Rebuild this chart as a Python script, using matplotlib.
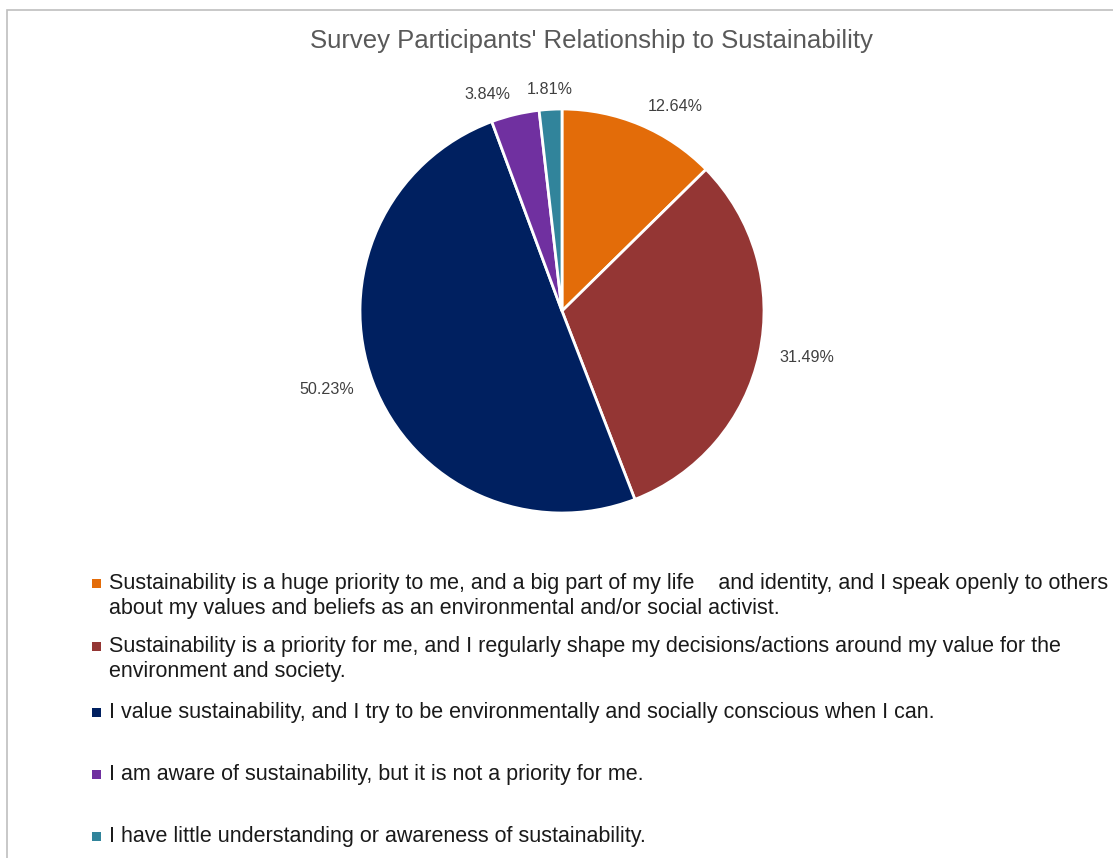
import matplotlib.pyplot as plt
from matplotlib.patches import Rectangle
import numpy as np

plt.rcParams['font.family'] = ['Liberation Sans', 'DejaVu Sans']

# survey shares (percent) and legend text
shares = [12.64, 31.49, 50.23, 3.84, 1.81]
answers = [
    "Sustainability is a huge priority to me, and a big part of my life    and identity, and I speak openly to others\n"
    "about my values and beliefs as an environmental and/or social activist.",
    "Sustainability is a priority for me, and I regularly shape my decisions/actions around my value for the\n"
    "environment and society.",
    "I value sustainability, and I try to be environmentally and socially conscious when I can.",
    "I am aware of sustainability, but it is not a priority for me.",
    "I have little understanding or awareness of sustainability.",
]
colors = ['#E36C09', '#943634', '#002060', '#7030A0', '#31849B']
title = "Survey Participants' Relationship to Sustainability"

W, H = 1113, 858
fig = plt.figure(figsize=(W / 100, H / 100), dpi=100)

def fx(px):
    return px / W

def fy(py):
    return 1 - py / H

# chart border (only left and top fall inside the image)
fig.patches.append(Rectangle((fx(7), fy(900)), fx(1200), fy(10) - fy(900),
                             transform=fig.transFigure, fill=False,
                             edgecolor='#BFBFBF', linewidth=1.2))

fig.text(fx(591), fy(41), title, ha='center', va='center',
         fontsize=18.5, color='#595959')

# pie axes
cx, cy, r = 562, 311, 202
ax = fig.add_axes([fx(cx - r), fy(cy + r), fx(2 * r), fy(cy - r) - fy(cy + r)])
wedges, _ = ax.pie(shares, colors=colors, startangle=90, counterclock=False,
                   wedgeprops=dict(edgecolor='white', linewidth=2), radius=1)
ax.set_xlim(-1, 1)
ax.set_ylim(-1, 1)
ax.axis('off')

# percentage labels just outside each slice
label_ha = ['left', 'left', 'right', 'right', 'center']
for w, v, ha in zip(wedges, shares, label_ha):
    ang = np.deg2rad((w.theta1 + w.theta2) / 2)
    ax.text(1.1 * np.cos(ang), 1.1 * np.sin(ang), f'{v:.2f}%', ha=ha,
            va='center', fontsize=11.6, color='#404040')

# legend below the pie
rows = [583, 646, 712, 774, 836]
for y, txt, c in zip(rows, answers, colors):
    fig.patches.append(Rectangle((fx(92), fy(y + 5)), fx(9), fy(0) - fy(9),
                                 transform=fig.transFigure, facecolor=c,
                                 edgecolor='none'))
    fig.text(fx(109), fy(y - 10), txt, ha='left', va='top', fontsize=15.5,
             color='#1a1a1a', linespacing=1.27)

fig.savefig('out.png', dpi=100, facecolor='white')
